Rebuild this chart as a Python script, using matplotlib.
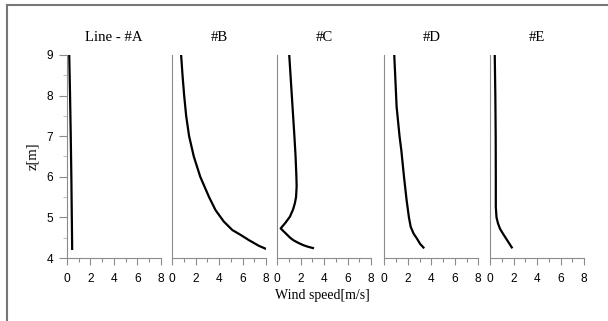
import numpy as np
import matplotlib.pyplot as plt
from matplotlib.lines import Line2D
from matplotlib.ticker import MultipleLocator

# Perfis de velocidade
titles = ["Line - #A", "#B", "#C", "#D", "#E"]

z_A = [4.2, 4.5, 5.0, 6.0, 7.0, 8.0, 9.0]
u_A = [0.45, 0.44, 0.42, 0.38, 0.33, 0.27, 0.2]

z_B = [4.22, 4.3, 4.44, 4.57, 4.69, 4.9, 5.18, 5.5, 6.0, 6.5, 7.0, 7.5, 8.0, 8.5, 9.0]
u_B = [8.05, 7.4, 6.55, 5.84, 5.13, 4.4, 3.7, 3.15, 2.4, 1.85, 1.45, 1.2, 1.03, 0.89, 0.77]

z_C = [4.24, 4.28, 4.32, 4.38, 4.44, 4.5, 4.6, 4.73, 4.87, 5.02, 5.2, 5.35,
       5.5, 5.76, 6.0, 6.5, 7.0, 8.0, 9.0]
u_C = [3.13, 2.6, 2.2, 1.75, 1.37, 1.1, 0.75, 0.29, 0.7, 1.08, 1.35, 1.5,
       1.6, 1.65, 1.63, 1.56, 1.46, 1.24, 1.02]

z_D = [4.24, 4.35, 4.49, 4.6, 4.77, 5.0, 5.43, 6.0, 6.66, 7.0, 7.73, 8.5, 9.0]
u_D = [3.4, 3.05, 2.76, 2.5, 2.25, 2.1, 1.9, 1.68, 1.45, 1.3, 1.05, 0.93, 0.85]

z_E = [4.24, 4.42, 4.6, 4.72, 4.85, 5.0, 5.26, 6.0, 7.0, 8.0, 9.0]
u_E = [1.9, 1.5, 1.1, 0.85, 0.68, 0.55, 0.49, 0.49, 0.48, 0.45, 0.4]

profiles = [(u_A, z_A), (u_B, z_B), (u_C, z_C), (u_D, z_D), (u_E, z_E)]

serif = ["Liberation Serif", "DejaVu Serif"]
sans = ["Liberation Sans", "DejaVu Sans"]
gray = "#8c8c8c"

fig = plt.figure(figsize=(6.08, 3.21), dpi=100)
fig.patch.set_facecolor("white")

lefts = [0.110, 0.283, 0.456, 0.632, 0.806]
w, b, h = 0.1546, 0.196, 0.633

for i, (left, title, (u, z)) in enumerate(zip(lefts, titles, profiles)):
    ax = fig.add_axes([left, b, w, h])
    ax.plot(u, z, color="black", lw=1.6, solid_capstyle="butt",
            solid_joinstyle="round")
    ax.set_xlim(0, 8)
    ax.set_ylim(4, 9)
    for s in ["top", "right"]:
        ax.spines[s].set_visible(False)
    for s in ["left", "bottom"]:
        ax.spines[s].set_color(gray)
        ax.spines[s].set_linewidth(0.8)
    ax.xaxis.set_major_locator(MultipleLocator(2))
    ax.xaxis.set_minor_locator(MultipleLocator(1))
    ax.tick_params(axis="x", which="major", direction="out", length=5,
                   color=gray, width=0.8, labelsize=8.6, pad=6)
    ax.tick_params(axis="x", which="minor", direction="out", length=3,
                   color=gray, width=0.8)
    for lab in ax.get_xticklabels():
        lab.set_family(sans)
    if i == 0:
        ax.yaxis.set_major_locator(MultipleLocator(1))
        ax.yaxis.set_minor_locator(MultipleLocator(0.5))
        ax.tick_params(axis="y", which="major", direction="out", length=6,
                       color=gray, width=0.8, labelsize=8.6, pad=4)
        ax.tick_params(axis="y", which="minor", direction="out", length=3,
                       color="#c0c0c0", width=0.8)
        for lab in ax.get_yticklabels():
            lab.set_family(sans)
        ax.set_ylabel("z[m]", family=serif, fontsize=10.5, labelpad=5)
    else:
        ax.set_yticks([])
    ax.set_title(title, family=serif, fontsize=10.6, pad=10)

fig.text(322 / 608, 1 - 296 / 321, "Wind speed[m/s]", family=serif,
         fontsize=10, ha="center", va="center")

# moldura (topo e esquerda)
fig.add_artist(Line2D([7 / 608, 1.0], [1 - 5 / 321, 1 - 5 / 321],
                      color="#777777", lw=1.5))
fig.add_artist(Line2D([7 / 608, 7 / 608], [0.0, 1 - 5 / 321],
                      color="#777777", lw=1.5))

plt.savefig("out.png", dpi=100)
plt.close()
